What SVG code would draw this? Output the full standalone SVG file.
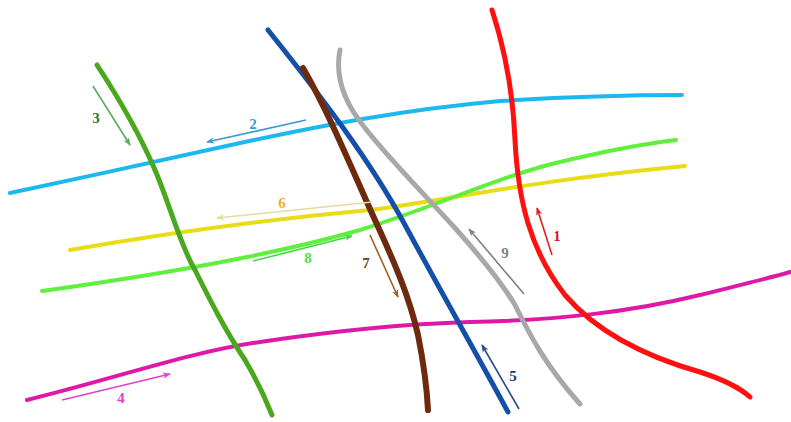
<svg xmlns="http://www.w3.org/2000/svg" width="791" height="422" viewBox="0 0 791 422">
<style>
.ln{fill:none;stroke-linecap:round;stroke-linejoin:round}
.ar{fill:none;stroke-width:1.6}
.lb{font-family:"Liberation Serif",serif;font-weight:bold;font-size:15px;text-anchor:middle}
</style>
<defs>
<marker id="m" viewBox="0 0 10 10" refX="9" refY="5" markerWidth="5" markerHeight="5" orient="auto" markerUnits="strokeWidth"><path d="M0,1 L10,5 L0,9 L3,5 Z" fill="context-stroke"/></marker>
</defs>
<rect width="791" height="422" fill="#fff"/>
<g id="connectors">
<path id="l2" class="ln" stroke="#1cb8f0" stroke-width="4" d="M10,193 C90,176 150,163 240,143 C320,126 400,110 500,101 C580,96 640,95 682,95"/>
<path id="l6" class="ln" stroke="#e8dc14" stroke-width="4" d="M70,250 C150,236 260,220 370,210 C450,200 520,182 685,166"/>
<path id="l8" class="ln" stroke="#5ef03a" stroke-width="4" d="M42,291 C150,276 270,256 360,230 C440,205 500,176 560,162 C610,150 650,143 676,140"/>
<path id="l4" class="ln" stroke="#e018a8" stroke-width="4" d="M27,400 C120,377 190,352 260,342 C340,330 400,324 470,322 C560,320 630,312 700,295 C740,285 770,278 790,272"/>
<path id="l1" class="ln" stroke="#ff1010" stroke-width="5" d="M492,10 C505,50 513,90 515,140 C518,200 530,250 565,295 C595,330 640,355 700,372 C725,380 740,388 750,397"/>
<path id="l9" class="ln" stroke="#a8a8a8" stroke-width="5" d="M340,50 C335,75 342,100 365,128 C390,160 425,195 455,228 C480,256 500,280 515,305 C530,335 545,365 580,404"/>
<path id="l5" class="ln" stroke="#1450a8" stroke-width="5" d="M268,30 C320,95 370,160 405,225 C440,290 480,360 508,412"/>
<path id="l7" class="ln" stroke="#6e2a0c" stroke-width="6" d="M303,68 C330,115 350,165 375,220 C398,270 410,300 418,335 C424,365 427,390 428,410"/>
<path id="l3" class="ln" stroke="#4aa81e" stroke-width="5" d="M97,65 C120,100 140,135 155,170 C170,205 180,245 195,270 C210,300 225,330 245,360 C258,382 266,400 272,415"/>
<path id="a3" class="ar" stroke="#5aaa5a" marker-end="url(#m)" d="M93,86 L130,145"/>
<path id="a2" class="ar" stroke="#3a9ad0" marker-end="url(#m)" d="M306,120 L207,142"/>
<path id="a6" class="ar" stroke="#e4dc9c" marker-end="url(#m)" d="M372,202 L217,218"/>
<path id="a8" class="ar" stroke="#40d840" marker-end="url(#m)" d="M253,261 L352,236"/>
<path id="a7" class="ar" stroke="#a06020" marker-end="url(#m)" d="M370,235 L398,297"/>
<path id="a9" class="ar" stroke="#808080" marker-end="url(#m)" d="M524,294 L469,229"/>
<path id="a1" class="ar" stroke="#e02020" marker-end="url(#m)" d="M552,255 L537,208"/>
<path id="a5" class="ar" stroke="#2a4a8a" marker-end="url(#m)" d="M519,409 L482,345"/>
<path id="a4" class="ar" stroke="#e040d0" marker-end="url(#m)" d="M62,400 L170,374"/>
</g>
<g id="labels">
<text class="lb" x="96" y="123" fill="#2a7a2a">3</text>
<text class="lb" x="253" y="129" fill="#3aa0d0">2</text>
<text class="lb" x="282" y="208" fill="#e8b030">6</text>
<text class="lb" x="308" y="263" fill="#50e050">8</text>
<text class="lb" x="366" y="268" fill="#704010">7</text>
<text class="lb" x="505" y="258" fill="#808080">9</text>
<text class="lb" x="557" y="241" fill="#e0102a">1</text>
<text class="lb" x="513" y="381" fill="#1a3a7a">5</text>
<text class="lb" x="121" y="403" fill="#e040c0">4</text>
</g>
</svg>
